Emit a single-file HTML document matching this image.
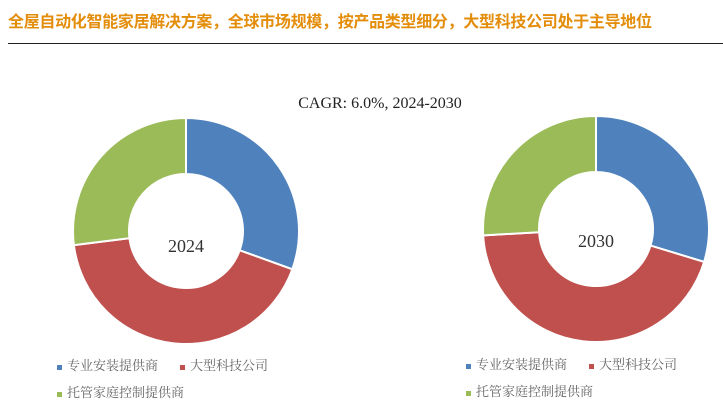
<!DOCTYPE html>
<html><head><meta charset="utf-8"><style>
body{margin:0;width:723px;height:415px;background:#fff;overflow:hidden;font-family:"Liberation Serif","Noto Serif CJK SC",serif}
.t{position:absolute;left:8px;top:8px;font-family:"Liberation Sans","Noto Sans CJK SC",sans-serif;font-weight:bold;font-size:16px;color:#e38d0a;letter-spacing:-0.3px}
.ln{position:absolute;left:8px;top:43px;width:715px;height:1px;background:#222}
.lg{position:absolute;font-size:13px;color:#666;white-space:nowrap}
.sq{display:inline-block;width:5px;height:5px;margin-right:5px;vertical-align:middle}
</style></head><body>
<div class="t">全屋自动化智能家居解决方案，全球市场规模，按产品类型细分，大型科技公司处于主导地位</div>
<div class="ln"></div>
<svg id="c" width="723" height="415" style="position:absolute;left:0;top:0">
<text x="380" y="108" text-anchor="middle" font-size="16" fill="#222">CAGR:  6.0%, 2024-2030</text>
</svg>
<div class="lg" style="left:57px;top:355px"><span class="sq" style="background:#4f81bd"></span>专业安装提供商<span style="display:inline-block;width:22px"></span><span class="sq" style="background:#c0504d"></span>大型科技公司<br><div style="height:8px"></div><span class="sq" style="background:#9bbb59"></span>托管家庭控制提供商</div>
<div class="lg" style="left:466px;top:354px"><span class="sq" style="background:#4f81bd"></span>专业安装提供商<span style="display:inline-block;width:22px"></span><span class="sq" style="background:#c0504d"></span>大型科技公司<br><div style="height:8px"></div><span class="sq" style="background:#9bbb59"></span>托管家庭控制提供商</div>
<script>
const categories=["专业安装提供商","大型科技公司","托管家庭控制提供商"];
const years=["2024","2030"];
const values2024=[30.5,42.5,27];
const values2030=[29.7,44.4,25.9];
const colors=["#4f81bd","#c0504d","#9bbb59"];
const svg=document.getElementById('c');
const NS="http://www.w3.org/2000/svg";
function donut(vals,cx,cy,R,r,label,ly){
  const tot=vals.reduce((a,b)=>a+b,0);let a0=0;
  vals.forEach((v,i)=>{
    const a1=a0+v/tot*Math.PI*2;
    const p=(a,rad)=>[cx+rad*Math.sin(a),cy-rad*Math.cos(a)];
    const [x1,y1]=p(a0,R),[x2,y2]=p(a1,R),[x3,y3]=p(a1,r),[x4,y4]=p(a0,r);
    const lg=(a1-a0)>Math.PI?1:0;
    const path=document.createElementNS(NS,'path');
    path.setAttribute('d',`M${x1},${y1}A${R},${R} 0 ${lg} 1 ${x2},${y2}L${x3},${y3}A${r},${r} 0 ${lg} 0 ${x4},${y4}Z`);
    path.setAttribute('fill',colors[i]);path.setAttribute('stroke','#fff');path.setAttribute('stroke-width','2');
    
    
    svg.appendChild(path);a0=a1;
  });
  const t=document.createElementNS(NS,'text');
  t.setAttribute('x',cx);t.setAttribute('y',ly);t.setAttribute('text-anchor','middle');
  t.setAttribute('font-size','18');t.setAttribute('fill','#333');t.textContent=label;
  
  
  svg.appendChild(t);
}
donut(values2024,186,231,113,57,years[0],252);
donut(values2030,596,229,113,57,years[1],247);
</script>
</body></html>
